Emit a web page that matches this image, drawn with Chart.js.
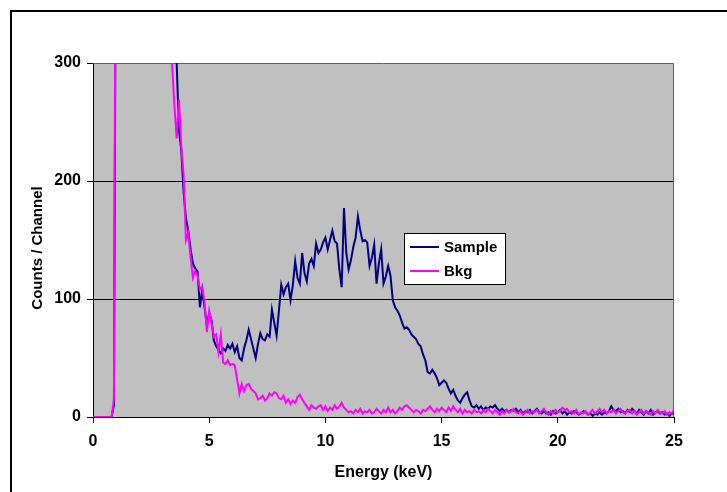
<!DOCTYPE html>
<html>
<head>
<meta charset="utf-8">
<script src="https://cdn.jsdelivr.net/npm/chart.js@4.4.0/dist/chart.umd.min.js"></script>
<style>
  html, body { margin: 0; padding: 0; background: #fff; }
  #wrap { position: relative; width: 727px; height: 492px; }
</style>
</head>
<body>
<div id="wrap"><canvas id="myChart" width="727" height="492"></canvas></div>
<script>
// spectrum channels, 0.1 keV each, starting at 0 keV
const channelWidth = 0.1;

// counts per channel (values above 300 are off scale)
const sampleCounts = [
  0, 0, 0, 0, 0, 0, 0, 0, 0, 10,
  500, 2300, 2900, 3100, 3000, 2800, 2600, 2350, 2100, 1900,
  1700, 1520, 1360, 1200, 1060, 930, 820, 720, 640, 570,
  510, 460, 420, 380, 350, 320, 300, 243, 226, 190,
  168, 158, 142, 130, 126, 123, 93, 108, 93, 78,
  88, 82, 65, 60, 57, 54, 58, 56, 61, 58,
  62, 55, 60, 50, 48, 58, 65, 74, 66, 58,
  50, 62, 71, 66, 65, 70, 68, 91, 80, 69,
  90, 112, 104, 110, 113, 99, 112, 132, 118, 113,
  139, 122, 115, 130, 134, 128, 147, 139, 142, 148,
  152, 142, 150, 158, 149, 147, 125, 110, 177, 139,
  125, 133, 144, 152, 170, 158, 149, 150, 148, 128,
  135, 146, 113, 130, 142, 113, 119, 128, 120, 99,
  93, 90, 86, 80, 75, 76, 74, 70, 68, 66,
  62, 60, 53, 48, 38, 37, 40, 37, 33, 27,
  29, 31, 29, 24, 20, 23, 18, 14, 12, 16,
  19, 21, 14, 9, 8, 10, 7, 9, 6, 8,
  7, 9, 8, 10, 7, 5, 7, 5, 6, 4,
  6, 5, 7, 4, 6, 3, 5, 4, 6, 3,
  5, 7, 4, 3, 5, 3, 4, 2, 5, 3,
  4, 6, 3, 5, 2, 4, 3, 5, 4, 2,
  3, 5, 4, 2, 3, 1, 3, 2, 4, 2,
  4, 3, 5, 9, 6, 5, 7, 4, 5, 3,
  6, 4, 7, 5, 3, 6, 4, 2, 5, 3,
  6, 2, 4, 5, 3, 4, 2, 3, 1, 3,
  3
];

const bkgCounts = [
  0, 0, 0, 0, 0, 0, 0, 0, 0, 15,
  600, 2100, 2600, 2800, 2700, 2500, 2300, 2100, 1900, 1700,
  1500, 1350, 1200, 1050, 920, 800, 700, 620, 550, 490,
  440, 400, 360, 320, 300, 265, 236, 269, 229, 205,
  150, 156, 135, 118, 124, 120, 108, 110, 97, 72,
  90, 80, 68, 70, 55, 70, 46, 45, 48, 44,
  45, 44, 32, 20, 28, 22, 27, 28, 24, 22,
  20, 15, 16, 18, 14, 16, 20, 18, 21, 20,
  16, 15, 18, 12, 15, 11, 14, 12, 17, 19,
  15, 12, 9, 6, 10, 8, 7, 9, 10, 6,
  9, 5, 8, 6, 10, 7, 9, 12, 8, 6,
  4, 5, 3, 6, 4, 7, 3, 5, 4, 6,
  3, 4, 7, 5, 3, 6, 4, 8, 4, 6,
  3, 5, 8, 6, 9, 10, 8, 6, 4, 6,
  5, 3, 6, 5, 7, 9, 6, 4, 7, 5,
  8, 6, 4, 8, 5, 9, 6, 4, 7, 3,
  6, 4, 5, 3, 6, 4, 5, 3, 6, 4,
  7, 5, 3, 6, 4, 2, 5, 3, 6, 4,
  5, 7, 4, 3, 5, 2, 4, 6, 3, 5,
  4, 6, 3, 5, 7, 4, 2, 5, 3, 6,
  4, 5, 8, 6, 7, 4, 5, 3, 6, 2,
  4, 3, 5, 2, 4, 6, 3, 5, 7, 4,
  6, 3, 5, 4, 6, 3, 5, 7, 4, 3,
  5, 6, 3, 5, 2, 4, 6, 3, 5, 4,
  2, 5, 3, 6, 4, 3, 5, 2, 4, 3,
  6
];

const energies = sampleCounts.map(function(_, i){ return +(i * channelWidth).toFixed(1); });

const seriesNames = ['Sample', 'Bkg'];
const seriesColors = ['#000080', '#FF00FF'];
const yTitle = 'Counts / Channel';

const FONT = "'Liberation Sans', Arial, sans-serif";

// grey plot area, top/right frame, outer figure border and the y title
const framePlugin = {
    id: 'frame',
    beforeDraw(chart){
        const c = chart.ctx, a = chart.chartArea;
        c.save();
        c.fillStyle = '#ffffff';
        c.fillRect(0, 0, chart.width, chart.height);
        c.strokeStyle = '#000000';
        c.lineWidth = 2;
        c.strokeRect(11, 11, chart.width + 20, chart.height + 20);
        c.fillStyle = '#C0C0C0';
        c.fillRect(a.left, a.top, a.right - a.left, a.bottom - a.top);
        c.restore();
    },
    beforeDatasetsDraw(chart){
        const c = chart.ctx, a = chart.chartArea;
        c.save();
        c.strokeStyle = '#606060';
        c.lineWidth = 1;
        c.beginPath();
        c.moveTo(a.left, a.top + 0.5);
        c.lineTo(a.right - 0.5, a.top + 0.5);
        c.lineTo(a.right - 0.5, a.bottom);
        c.stroke();
        c.restore();
    },
    afterDraw(chart){
        // excel puts the rotated title a bit below the middle of the axis
        const c = chart.ctx, a = chart.chartArea;
        c.save();
        c.translate(a.left - 55, (a.top + a.bottom) / 2 + 8);
        c.rotate(-Math.PI / 2);
        c.font = 'bold 15px ' + FONT;
        c.fillStyle = '#000000';
        c.textAlign = 'center';
        c.textBaseline = 'middle';
        c.fillText(yTitle, 0, 0);
        c.restore();
    }
};

// boxed legend sitting inside the plot area
const boxLegendPlugin = {
    id: 'boxLegend',
    afterDraw(chart){
        const c = chart.ctx, a = chart.chartArea;
        const x = a.left + 311, y = a.top + 170, w = 101, h = 51;
        c.save();
        c.fillStyle = '#ffffff';
        c.fillRect(x, y, w, h);
        c.strokeStyle = '#000000';
        c.lineWidth = 1;
        c.strokeRect(x + 0.5, y + 0.5, w, h);
        c.font = 'bold 15px ' + FONT;
        c.textBaseline = 'middle';
        chart.data.datasets.forEach(function(ds, i){
            const ly = y + 14 + i * 24;
            c.strokeStyle = ds.borderColor;
            c.lineWidth = 2;
            c.beginPath();
            c.moveTo(x + 6, ly);
            c.lineTo(x + 35, ly);
            c.stroke();
            c.fillStyle = '#000000';
            c.fillText(ds.label, x + 40, ly + 1);
        });
        c.restore();
    }
};

const ctx = document.getElementById('myChart');
const myChart = new Chart(ctx, {
    type: 'line',
    data: {
        labels: energies,
        datasets: [{
            label: seriesNames[0],
            data: sampleCounts,
            borderColor: seriesColors[0],
            borderWidth: 2,
            pointRadius: 0,
            tension: 0,
            order: 1
        }, {
            label: seriesNames[1],
            data: bkgCounts,
            borderColor: seriesColors[1],
            borderWidth: 2,
            pointRadius: 0,
            tension: 0,
            order: 0
        }]
    },
    options: {
        responsive: false,
        animation: false,
        layout: { padding: { top: 63, right: 53, left: 0, bottom: 0 } },
        plugins: {
            legend: { display: false },
            tooltip: { enabled: false }
        },
        scales: {
            x: {
                type: 'linear',
                min: 0,
                max: 25,
                afterFit(scale){ scale.height = 75; },
                ticks: {
                    stepSize: 5,
                    color: '#000',
                    padding: 9,
                    maxRotation: 0,
                    font: { family: FONT, size: 16, weight: 'bold' }
                },
                grid: {
                    drawOnChartArea: false,
                    drawTicks: true,
                    tickLength: 6,
                    tickColor: '#000'
                },
                border: { color: '#000', width: 1 },
                title: {
                    display: true,
                    text: 'Energy (keV)',
                    color: '#000',
                    padding: { top: 0, bottom: 10 },
                    font: { family: FONT, size: 16, weight: 'bold' }
                }
            },
            y: {
                min: 0,
                max: 300,
                afterFit(scale){ scale.width = 93; },
                ticks: {
                    stepSize: 100,
                    color: '#000',
                    padding: 6,
                    font: { family: FONT, size: 16, weight: 'bold' }
                },
                grid: {
                    color: function(c){ return c.tick && c.tick.value === 300 ? 'rgba(0,0,0,0)' : '#000'; },
                    tickLength: 6,
                    tickColor: '#000'
                },
                border: { color: '#000', width: 1 }
            }
        }
    },
    plugins: [framePlugin, boxLegendPlugin]
});
</script>
</body>
</html>
